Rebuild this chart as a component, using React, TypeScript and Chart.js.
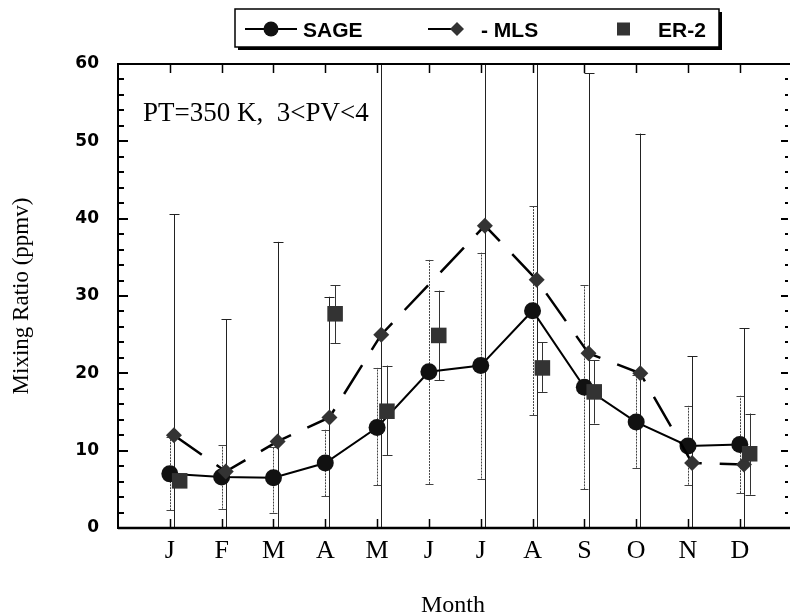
import React, { useEffect, useRef } from 'react';
import { Chart, registerables } from 'chart.js';

Chart.register(...registerables);

// ---------- data ----------
const months = ['J', 'F', 'M', 'A', 'M', 'J', 'J', 'A', 'S', 'O', 'N', 'D'];
const yTickValues = [0, 10, 20, 30, 40, 50, 60];

const sageValues = [7.0, 6.6, 6.5, 8.4, 13.0, 20.2, 21.0, 28.1, 18.2, 13.7, 10.6, 10.8];
const sageLow = [2.3, 2.5, 2.0, 4.1, 5.5, 5.7, 6.4, 14.6, 5.0, 7.8, 5.6, 4.5];
const sageHigh = [11.8, 10.7, 10.5, 12.7, 20.7, 34.7, 35.6, 41.7, 31.4, 19.8, 15.8, 17.1];

const mlsValues = [12.0, 7.3, 11.2, 14.3, 25.0, null, 39.1, 32.1, 22.6, 20.0, 8.4, 8.2];
const mlsLow = [0, 0, 0, 0, 0, null, 0, 0, 0, 0, 0, 0];
const mlsHigh = [40.6, 27.0, 37.0, 29.9, 65, null, 65, 65, 58.8, 51.0, 22.2, 25.8];

const er2Values = [6.1, null, null, 27.7, 15.1, 24.9, null, 20.7, 17.6, null, null, 9.6];
const er2Low = [null, null, null, 23.9, 9.4, 19.1, null, 17.6, 13.5, null, null, 4.3];
const er2High = [null, null, null, 31.4, 21.0, 30.7, null, 24.0, 21.7, null, null, 14.8];

const annotationText = 'PT=350 K,  3<PV<4';
const legendLabels = ['SAGE', '- MLS', 'ER-2'];
const xTitle = 'Month';
const yTitle = 'Mixing Ratio (ppmv)';

// ---------- styling ----------
const SERIF = '"Liberation Serif", "Times New Roman", serif';
const SANS = '"Liberation Sans", Arial, sans-serif';
const TICK_SANS = '"DejaVu Sans", sans-serif';

const SAGE_OFFSET = 0;
const MLS_OFFSET = 0.08;
const ER2_OFFSET = 0.19;

const toPoints = (vals: (number | null)[], off: number) =>
  vals.map((v, i) => ({ x: i + off, y: v }));

const errorSets = [
  { low: sageLow, high: sageHigh, offset: SAGE_OFFSET, color: '#444', dash: [2, 1], cap: 4 },
  { low: mlsLow, high: mlsHigh, offset: MLS_OFFSET, color: '#222', dash: [], cap: 5 },
  { low: er2Low, high: er2High, offset: ER2_OFFSET, color: '#333', dash: [], cap: 5 },
];

const errorBarPlugin = {
  id: 'errorBars',
  beforeDatasetsDraw(chart: any) {
    const { ctx, chartArea, scales } = chart;
    const x = scales.x;
    const y = scales.y;
    ctx.save();
    ctx.beginPath();
    ctx.rect(chartArea.left, chartArea.top, chartArea.right - chartArea.left, chartArea.bottom - chartArea.top);
    ctx.clip();
    errorSets.forEach((set) => {
      set.low.forEach((lo, i) => {
        const hi = set.high[i];
        if (lo == null || hi == null) return;
        const px = Math.round(x.getPixelForValue(i + set.offset)) + 0.5;
        const pLo = y.getPixelForValue(lo);
        const pHi = y.getPixelForValue(hi);
        ctx.strokeStyle = set.color;
        ctx.lineWidth = 1;
        ctx.setLineDash(set.dash);
        ctx.beginPath();
        ctx.moveTo(px, pLo);
        ctx.lineTo(px, pHi);
        ctx.stroke();
        ctx.setLineDash([]);
        ctx.beginPath();
        ctx.moveTo(px - set.cap, Math.round(pLo) + 0.5);
        ctx.lineTo(px + set.cap, Math.round(pLo) + 0.5);
        ctx.moveTo(px - set.cap, Math.round(pHi) + 0.5);
        ctx.lineTo(px + set.cap, Math.round(pHi) + 0.5);
        ctx.stroke();
      });
    });
    ctx.restore();
  },
};

const framePlugin = {
  id: 'frameAndDecor',
  afterDraw(chart: any) {
    const { ctx, chartArea, scales } = chart;
    const x = scales.x;
    const y = scales.y;
    const { left, right, top, bottom } = chartArea;
    ctx.save();
    ctx.strokeStyle = '#000';
    // frame
    ctx.lineWidth = 2;
    ctx.beginPath();
    ctx.moveTo(right + 2, top);
    ctx.lineTo(left, top);
    ctx.lineTo(left, bottom);
    ctx.lineTo(right + 2, bottom);
    ctx.stroke();
    ctx.lineWidth = 2.5;
    ctx.beginPath();
    ctx.moveTo(left, bottom);
    ctx.lineTo(right + 2, bottom);
    ctx.stroke();

    // inward ticks, y axes
    ctx.lineWidth = 2;
    for (let v = 0; v <= 60; v += 2) {
      const py = Math.round(y.getPixelForValue(v));
      const major = v % 10 === 0;
      ctx.beginPath();
      ctx.moveTo(left, py);
      ctx.lineTo(left + (major ? 10 : 6), py);
      ctx.moveTo(right, py);
      ctx.lineTo(right - (major ? 7 : 3), py);
      ctx.stroke();
    }
    // inward ticks, x axes
    ctx.lineWidth = 1.5;
    months.forEach((_, i) => {
      const px = Math.round(x.getPixelForValue(i)) + 0.5;
      ctx.beginPath();
      ctx.moveTo(px, bottom);
      ctx.lineTo(px, bottom - 9);
      ctx.moveTo(px, top);
      ctx.lineTo(px, top + 9);
      ctx.stroke();
    });

    // annotation
    ctx.fillStyle = '#000';
    ctx.font = `27px ${SERIF}`;
    ctx.textAlign = 'left';
    ctx.textBaseline = 'alphabetic';
    ctx.fillText(annotationText, 143, 121);

    // legend box
    const bx = 235, by = 9, bw = 484, bh = 38;
    ctx.fillStyle = '#000';
    ctx.fillRect(bx + 3, by + 3, bw, bh);
    ctx.fillStyle = '#fff';
    ctx.fillRect(bx, by, bw, bh);
    ctx.lineWidth = 1.5;
    ctx.strokeRect(bx, by, bw, bh);

    const cy = 29;
    ctx.lineWidth = 2;
    // SAGE
    ctx.beginPath();
    ctx.moveTo(245, cy);
    ctx.lineTo(297, cy);
    ctx.stroke();
    ctx.fillStyle = '#111';
    ctx.beginPath();
    ctx.arc(271, cy, 7.5, 0, Math.PI * 2);
    ctx.fill();
    // MLS
    ctx.beginPath();
    ctx.moveTo(428, cy);
    ctx.lineTo(455, cy);
    ctx.stroke();
    ctx.fillStyle = '#333';
    ctx.beginPath();
    ctx.moveTo(457, cy - 7);
    ctx.lineTo(464, cy);
    ctx.lineTo(457, cy + 7);
    ctx.lineTo(450, cy);
    ctx.closePath();
    ctx.fill();
    // ER-2
    ctx.fillStyle = '#333';
    ctx.fillRect(617, cy - 6.5, 13, 13);

    ctx.fillStyle = '#000';
    ctx.font = `bold 21px ${SANS}`;
    ctx.fillText(legendLabels[0], 303, 37);
    ctx.fillText(legendLabels[1], 481, 37);
    ctx.fillText(legendLabels[2], 658, 37);
    ctx.restore();
  },
};

export default function App() {
  const canvasRef = useRef<HTMLCanvasElement | null>(null);

  useEffect(() => {
    const canvas = canvasRef.current;
    if (!canvas) return;
    const chart = new Chart(canvas, {
      type: 'line',
      data: {
        datasets: [
          {
            label: 'SAGE',
            data: toPoints(sageValues, SAGE_OFFSET),
            borderColor: '#000',
            borderWidth: 2,
            backgroundColor: '#111',
            pointStyle: 'circle',
            pointRadius: 8.5,
            pointBorderWidth: 0,
            pointBackgroundColor: '#111',
            tension: 0,
            order: 2,
          },
          {
            label: '- MLS',
            data: toPoints(mlsValues, MLS_OFFSET),
            borderColor: '#000',
            borderWidth: 2.5,
            borderDash: [34, 18],
            spanGaps: true,
            pointStyle: 'rectRot',
            pointRadius: 8,
            pointBorderWidth: 0,
            pointBackgroundColor: '#333',
            tension: 0,
            order: 1,
          },
          {
            label: 'ER-2',
            data: toPoints(er2Values, ER2_OFFSET),
            showLine: false,
            pointStyle: 'rect',
            pointRadius: 11,
            pointBorderWidth: 0,
            pointBackgroundColor: '#333',
            order: 0,
          },
        ],
      },
      options: {
        responsive: false,
        animation: false,
        devicePixelRatio: 1,
        layout: { padding: { top: 64, right: 0, bottom: 0, left: 0 } },
        plugins: {
          legend: { display: false },
          tooltip: { enabled: false },
          title: { display: false },
        },
        scales: {
          x: {
            type: 'linear',
            min: -1,
            max: 11.93,
            grid: { display: false, drawTicks: false },
            border: { display: false },
            afterBuildTicks: (scale: any) => {
              scale.ticks = months.map((_, i) => ({ value: i }));
            },
            afterFit: (scale: any) => {
              scale.height = 88;
            },
            ticks: {
              autoSkip: false,
              maxRotation: 0,
              padding: 8,
              color: '#000',
              font: { family: SERIF, size: 26 },
              callback: (v: any) => months[v as number] ?? '',
            },
            title: {
              display: true,
              text: xTitle,
              color: '#000',
              font: { family: SERIF, size: 24, lineHeight: 1 },
              padding: { top: 0, bottom: -2 },
            },
          },
          y: {
            type: 'linear',
            min: 0,
            max: 60,
            grid: { display: false, drawTicks: false },
            border: { display: false },
            afterBuildTicks: (scale: any) => {
              scale.ticks = yTickValues.map((v) => ({ value: v }));
            },
            afterFit: (scale: any) => {
              scale.width = 118;
            },
            ticks: {
              padding: 19,
              color: '#000',
              font: { family: TICK_SANS, size: 17, weight: 'bold' },
            },
            title: {
              display: true,
              text: yTitle,
              color: '#000',
              font: { family: SERIF, size: 23, lineHeight: 1 },
              padding: { top: 10, bottom: 0 },
            },
          },
        },
      } as any,
      plugins: [errorBarPlugin, framePlugin],
    });
    return () => chart.destroy();
  }, []);

  return (
    <div style={{ position: 'fixed', left: 0, top: 0, width: 799, height: 616, background: '#fff' }}>
      <canvas ref={canvasRef} width={799} height={616} style={{ display: 'block', width: 799, height: 616 }} />
    </div>
  );
}
